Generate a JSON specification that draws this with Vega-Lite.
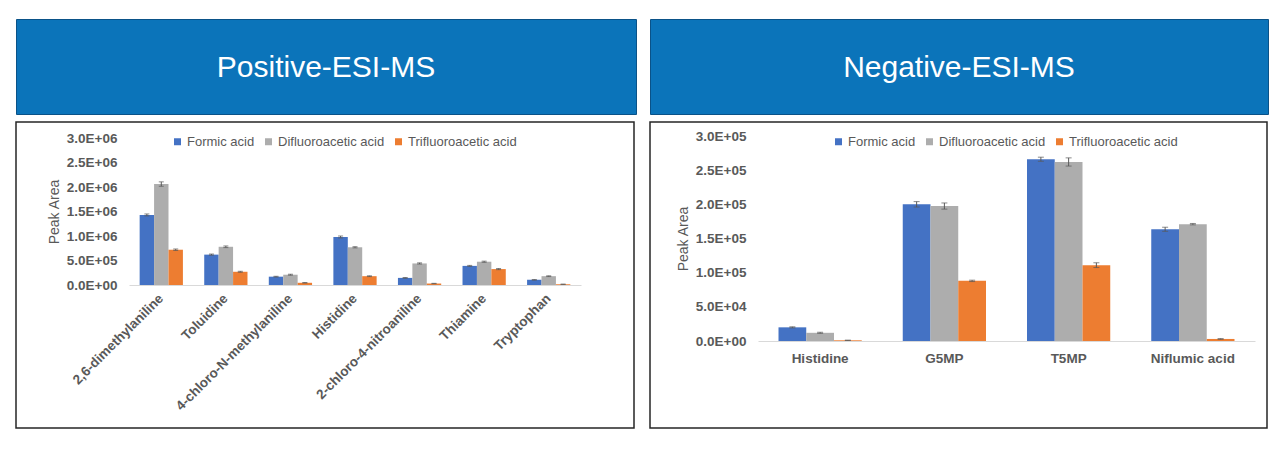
{
  "$schema": "https://vega.github.io/schema/vega-lite/v6.json",
  "background": "white",
  "padding": {"left": 15, "top": 18, "right": 0, "bottom": 0},
  "spacing": 12,
  "resolve": {"scale": {"x": "independent", "y": "independent", "color": "independent", "xOffset": "independent"}, "legend": {"color": "independent"}, "axis": {"x": "independent", "y": "independent"}},
  "config": {
    "font": "Liberation Sans",
    "view": {"stroke": null},
    "axis": {"grid": false}
  },
  "hconcat": [
    {
      "spacing": 6,
      "resolve": {"scale": {"x": "independent", "y": "independent", "color": "independent"}},
      "vconcat": [
        {
          "width": 620,
          "height": 95,
          "data": {"values": [{"t": "Positive-ESI-MS"}]},
          "view": {"fill": "#0B74BA", "stroke": "#0a5288", "strokeWidth": 1},
          "mark": {"type": "text", "color": "white", "fontSize": 30, "dy": 1},
          "encoding": {"text": {"field": "t", "type": "nominal"}}
        },
        {
          "width": 618,
          "height": 306,
          "view": {"stroke": "#262626", "strokeWidth": 1.5, "fill": "white"},
          "data": {"values": [
            {"compound": "2,6-dimethylaniline", "acid": "Formic acid", "value": 1430000, "lo": 1410000, "hi": 1450000},
            {"compound": "2,6-dimethylaniline", "acid": "Difluoroacetic acid", "value": 2060000, "lo": 2015000, "hi": 2105000},
            {"compound": "2,6-dimethylaniline", "acid": "Trifluoroacetic acid", "value": 720000, "lo": 705000, "hi": 735000},
            {"compound": "Toluidine", "acid": "Formic acid", "value": 620000, "lo": 608000, "hi": 632000},
            {"compound": "Toluidine", "acid": "Difluoroacetic acid", "value": 780000, "lo": 763000, "hi": 797000},
            {"compound": "Toluidine", "acid": "Trifluoroacetic acid", "value": 270000, "lo": 260000, "hi": 280000},
            {"compound": "4-chloro-N-methylaniline", "acid": "Formic acid", "value": 170000, "lo": 162000, "hi": 178000},
            {"compound": "4-chloro-N-methylaniline", "acid": "Difluoroacetic acid", "value": 210000, "lo": 200000, "hi": 220000},
            {"compound": "4-chloro-N-methylaniline", "acid": "Trifluoroacetic acid", "value": 45000, "lo": 40000, "hi": 50000},
            {"compound": "Histidine", "acid": "Formic acid", "value": 980000, "lo": 960000, "hi": 1000000},
            {"compound": "Histidine", "acid": "Difluoroacetic acid", "value": 770000, "lo": 758000, "hi": 782000},
            {"compound": "Histidine", "acid": "Trifluoroacetic acid", "value": 180000, "lo": 172000, "hi": 188000},
            {"compound": "2-chloro-4-nitroaniline", "acid": "Formic acid", "value": 145000, "lo": 137000, "hi": 153000},
            {"compound": "2-chloro-4-nitroaniline", "acid": "Difluoroacetic acid", "value": 440000, "lo": 428000, "hi": 452000},
            {"compound": "2-chloro-4-nitroaniline", "acid": "Trifluoroacetic acid", "value": 30000, "lo": 26000, "hi": 34000},
            {"compound": "Thiamine", "acid": "Formic acid", "value": 390000, "lo": 380000, "hi": 400000},
            {"compound": "Thiamine", "acid": "Difluoroacetic acid", "value": 475000, "lo": 463000, "hi": 487000},
            {"compound": "Thiamine", "acid": "Trifluoroacetic acid", "value": 325000, "lo": 313000, "hi": 337000},
            {"compound": "Tryptophan", "acid": "Formic acid", "value": 105000, "lo": 99000, "hi": 111000},
            {"compound": "Tryptophan", "acid": "Difluoroacetic acid", "value": 180000, "lo": 172000, "hi": 188000},
            {"compound": "Tryptophan", "acid": "Trifluoroacetic acid", "value": 15000, "lo": 12000, "hi": 18000}
          ]},
          "encoding": {
            "x": {
              "field": "compound", "type": "nominal", "sort": null,
              "scale": {"range": [113, 565], "paddingInner": 0.33, "paddingOuter": 0.165},
              "axis": {"title": null, "labelAngle": -45, "labelAlign": "right", "labelBaseline": "middle", "ticks": false, "tickSize": 0, "domainColor": "#d9d9d9", "domainWidth": 1, "labelPadding": 11, "offset": -143, "labelFontWeight": "bold", "labelColor": "#595959", "labelFontSize": 13.5, "labelLimit": 300}
            },
            "xOffset": {"field": "acid", "type": "nominal", "sort": ["Formic acid", "Difluoroacetic acid", "Trifluoroacetic acid"], "scale": {"paddingInner": 0, "paddingOuter": 0}}
          },
          "layer": [
            {
              "mark": {"type": "bar"},
              "encoding": {
                "y": {"field": "value", "type": "quantitative", "title": "Peak Area",
                  "scale": {"domain": [0, 3000000], "range": [163, 16], "nice": false},
                  "axis": {"orient": "left", "offset": -101, "ticks": false, "tickSize": 0, "domain": false, "labelPadding": 0, "values": [0, 500000, 1000000, 1500000, 2000000, 2500000, 3000000], "labelExpr": "replace(upper(format(datum.value, '.1e')), 'E+', 'E+0')", "labelFontWeight": "bold", "labelColor": "#595959", "labelFontSize": 13.5, "titleColor": "#595959", "titleFontSize": 14, "titleFontWeight": "normal", "titlePadding": 5}
                },
                "color": {"field": "acid", "type": "nominal",
                  "scale": {"domain": ["Formic acid", "Difluoroacetic acid", "Trifluoroacetic acid"], "range": ["#4472C4", "#ADADAD", "#ED7D31"]},
                  "legend": {"orient": "none", "legendX": 155, "legendY": 13, "direction": "horizontal", "title": null, "symbolType": "square", "symbolSize": 49, "symbolStrokeWidth": 0, "labelFontSize": 13, "labelColor": "#595959", "columnPadding": 7, "labelOffset": 3}
                }
              }
            },
            {
              "mark": {"type": "rule", "color": "#595959", "strokeWidth": 1},
              "encoding": {
                "y": {"field": "lo", "type": "quantitative", "title": "Peak Area", "scale": {"domain": [0, 3000000], "range": [163, 16], "nice": false}},
                "y2": {"field": "hi"}
              }
            },
            {
              "mark": {"type": "tick", "color": "#595959", "thickness": 1, "size": 5},
              "encoding": {
                "y": {"field": "lo", "type": "quantitative", "title": "Peak Area", "scale": {"domain": [0, 3000000], "range": [163, 16], "nice": false}}
              }
            },
            {
              "mark": {"type": "tick", "color": "#595959", "thickness": 1, "size": 5},
              "encoding": {
                "y": {"field": "hi", "type": "quantitative", "title": "Peak Area", "scale": {"domain": [0, 3000000], "range": [163, 16], "nice": false}}
              }
            }
          ]
        }
      ]
    },
    {
      "spacing": 6,
      "resolve": {"scale": {"x": "independent", "y": "independent", "color": "independent"}},
      "vconcat": [
        {
          "width": 618,
          "height": 95,
          "data": {"values": [{"t": "Negative-ESI-MS"}]},
          "view": {"fill": "#0B74BA", "stroke": "#0a5288", "strokeWidth": 1},
          "mark": {"type": "text", "color": "white", "fontSize": 30, "dy": 1},
          "encoding": {"text": {"field": "t", "type": "nominal"}}
        },
        {
          "width": 617,
          "height": 306,
          "view": {"stroke": "#262626", "strokeWidth": 1.5, "fill": "white"},
          "data": {"values": [
            {"compound": "Histidine", "acid": "Formic acid", "value": 20000, "lo": 19200, "hi": 20800},
            {"compound": "Histidine", "acid": "Difluoroacetic acid", "value": 12000, "lo": 11200, "hi": 12800},
            {"compound": "Histidine", "acid": "Trifluoroacetic acid", "value": 1000, "lo": 700, "hi": 1300},
            {"compound": "G5MP", "acid": "Formic acid", "value": 200000, "lo": 196000, "hi": 204000},
            {"compound": "G5MP", "acid": "Difluoroacetic acid", "value": 197500, "lo": 193000, "hi": 202000},
            {"compound": "G5MP", "acid": "Trifluoroacetic acid", "value": 88000, "lo": 87000, "hi": 89000},
            {"compound": "T5MP", "acid": "Formic acid", "value": 266000, "lo": 263000, "hi": 269000},
            {"compound": "T5MP", "acid": "Difluoroacetic acid", "value": 262000, "lo": 256000, "hi": 268000},
            {"compound": "T5MP", "acid": "Trifluoroacetic acid", "value": 111000, "lo": 107500, "hi": 114500},
            {"compound": "Niflumic acid", "acid": "Formic acid", "value": 163500, "lo": 160500, "hi": 166500},
            {"compound": "Niflumic acid", "acid": "Difluoroacetic acid", "value": 171000, "lo": 170000, "hi": 172000},
            {"compound": "Niflumic acid", "acid": "Trifluoroacetic acid", "value": 3000, "lo": 2500, "hi": 3500}
          ]},
          "encoding": {
            "x": {
              "field": "compound", "type": "nominal", "sort": null,
              "scale": {"range": [108, 605], "paddingInner": 0.33, "paddingOuter": 0.165},
              "axis": {"title": null, "labelAngle": 0, "ticks": false, "tickSize": 0, "domainColor": "#d9d9d9", "domainWidth": 1, "labelPadding": 10, "offset": -87, "labelFontWeight": "bold", "labelColor": "#595959", "labelFontSize": 13.5}
            },
            "xOffset": {"field": "acid", "type": "nominal", "sort": ["Formic acid", "Difluoroacetic acid", "Trifluoroacetic acid"], "scale": {"paddingInner": 0, "paddingOuter": 0}}
          },
          "layer": [
            {
              "mark": {"type": "bar"},
              "encoding": {
                "y": {"field": "value", "type": "quantitative", "title": "Peak Area",
                  "scale": {"domain": [0, 300000], "range": [219, 14], "nice": false},
                  "axis": {"orient": "left", "offset": -96, "ticks": false, "tickSize": 0, "domain": false, "labelPadding": 0, "values": [0, 50000, 100000, 150000, 200000, 250000, 300000], "labelExpr": "replace(upper(format(datum.value, '.1e')), 'E+', 'E+0')", "labelFontWeight": "bold", "labelColor": "#595959", "labelFontSize": 13.5, "titleColor": "#595959", "titleFontSize": 14, "titleFontWeight": "normal", "titlePadding": 5}
                },
                "color": {"field": "acid", "type": "nominal",
                  "scale": {"domain": ["Formic acid", "Difluoroacetic acid", "Trifluoroacetic acid"], "range": ["#4472C4", "#ADADAD", "#ED7D31"]},
                  "legend": {"orient": "none", "legendX": 182, "legendY": 13, "direction": "horizontal", "title": null, "symbolType": "square", "symbolSize": 49, "symbolStrokeWidth": 0, "labelFontSize": 13, "labelColor": "#595959", "columnPadding": 7, "labelOffset": 3}
                }
              }
            },
            {
              "mark": {"type": "rule", "color": "#595959", "strokeWidth": 1},
              "encoding": {
                "y": {"field": "lo", "type": "quantitative", "title": "Peak Area", "scale": {"domain": [0, 300000], "range": [219, 14], "nice": false}},
                "y2": {"field": "hi"}
              }
            },
            {
              "mark": {"type": "tick", "color": "#595959", "thickness": 1, "size": 6},
              "encoding": {
                "y": {"field": "lo", "type": "quantitative", "title": "Peak Area", "scale": {"domain": [0, 300000], "range": [219, 14], "nice": false}}
              }
            },
            {
              "mark": {"type": "tick", "color": "#595959", "thickness": 1, "size": 6},
              "encoding": {
                "y": {"field": "hi", "type": "quantitative", "title": "Peak Area", "scale": {"domain": [0, 300000], "range": [219, 14], "nice": false}}
              }
            }
          ]
        }
      ]
    }
  ]
}
